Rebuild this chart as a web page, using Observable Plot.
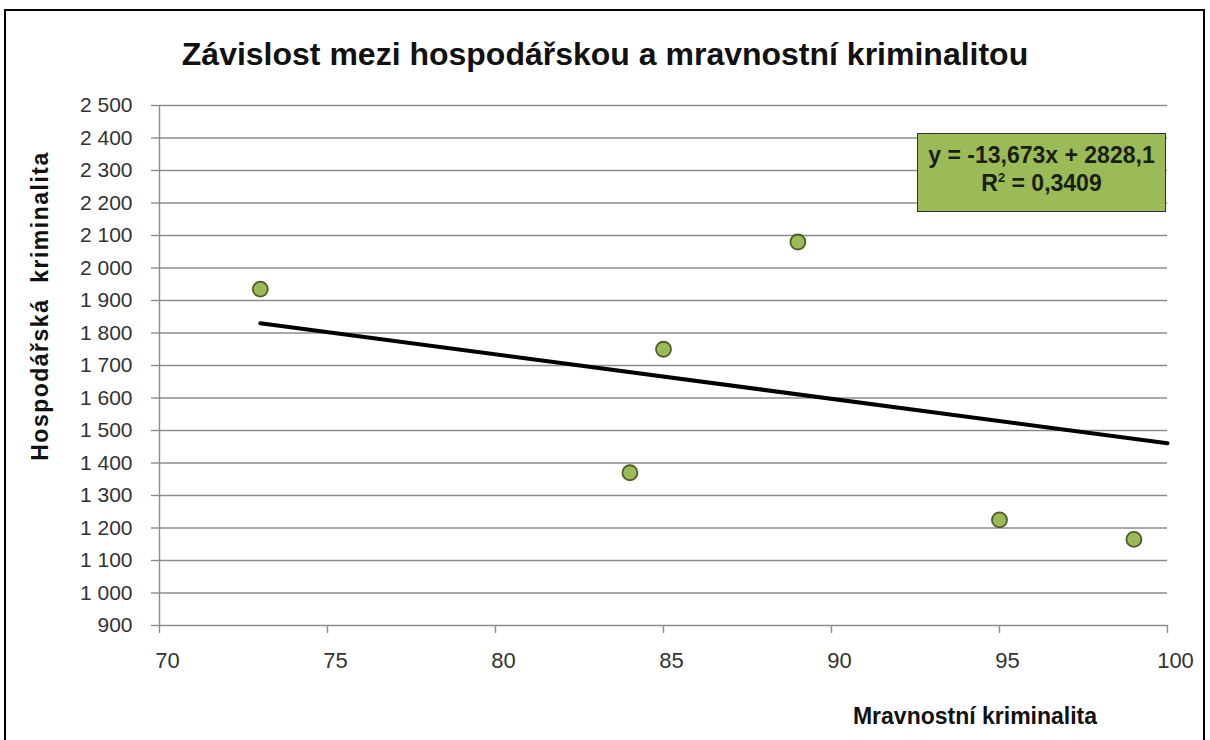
<!DOCTYPE html>
<html>
<head>
<meta charset="utf-8">
<script src="https://cdn.jsdelivr.net/npm/d3@7"></script>
<script src="https://cdn.jsdelivr.net/npm/@observablehq/plot@0.6"></script>
<style>
  body { margin: 0; background: #fff; }
  #wrap { position: relative; width: 1210px; height: 740px; overflow: hidden; font-family: "Liberation Sans", Arial, sans-serif; }
  #chart { position: absolute; left: 0; top: 0; }
  .frame { position: absolute; left: 4px; top: 9px; width: 1197px; height: 800px; border: 2px solid #000; }
  .title { position: absolute; left: 0; width: 1210px; top: 36px; text-align: center; font-weight: bold; font-size: 32px; color: #111; }
  .ytitle { position: absolute; left: 40px; top: 306px; transform: translate(-50%, -50%) rotate(-90deg); white-space: pre; font-weight: bold; font-size: 23px; letter-spacing: 1.5px; color: #111; }
  .xtitle { position: absolute; left: 975px; top: 716px; transform: translate(-50%, -50%); white-space: pre; font-weight: bold; font-size: 23px; color: #111; }
  .eq { position: absolute; left: 917px; top: 133px; width: 247px; height: 70px; background: #9bbb59; border: 1.5px solid #333; text-align: center; font-weight: bold; font-size: 23px; line-height: 28px; padding-top: 7px; box-sizing: content-box; color: #1a1f10; }
  .eq sup { font-size: 13px; vertical-align: 9px; line-height: 0; }
</style>
</head>
<body>
<div id="wrap">
  <div id="chart"></div>
  <div class="frame"></div>
  <div class="title" id="title"></div>
  <div class="ytitle" id="ytitle"></div>
  <div class="xtitle" id="xtitle"></div>
  <div class="eq" id="eq"></div>
</div>
<script>
// ---- data ----
const xValues = [73, 84, 85, 89, 95, 99];
const yValues = [1935, 1370, 1750, 2080, 1225, 1165];
const xTicks = [70, 75, 80, 85, 90, 95, 100];
const yTicks = [900, 1000, 1100, 1200, 1300, 1400, 1500, 1600, 1700, 1800, 1900, 2000, 2100, 2200, 2300, 2400, 2500];
const slope = -13.673;
const intercept = 2828.1;
const rSquared = 0.3409;
const trendX = [73, 100];
const titleText = "Závislost mezi hospodářskou a mravnostní kriminalitou";
const yTitleText = "Hospodářská  kriminalita";
const xTitleText = "Mravnostní kriminalita";

const points = xValues.map((x, i) => ({x, y: yValues[i]}));
const trend = trendX.map(x => ({x, y: intercept + slope * x}));

const fmtY = d => d3.format(",")(d).replace(",", " ");
const fmtNum = v => String(v).replace(".", ",");

const gridColor = "#8c8c8c";

const chart = Plot.plot({
  width: 1210,
  height: 740,
  marginLeft: 159,
  marginRight: 43,
  marginTop: 105,
  marginBottom: 115,
  style: { background: "transparent", fontFamily: "'Liberation Sans', Arial, sans-serif", fontSize: "21px", color: "#333" },
  x: { domain: [70, 100], axis: null },
  y: { domain: [900, 2500], axis: null },
  marks: [
    Plot.ruleY(yTicks, { stroke: gridColor, strokeWidth: 1.4 }),
    Plot.ruleX([70], { stroke: gridColor, strokeWidth: 1.4 }),
    Plot.axisY({ ticks: yTicks, tickFormat: fmtY, tickSize: 8, tickPadding: 19, stroke: gridColor, strokeWidth: 1.4, fill: "#333", fontSize: 21, label: null }),
    Plot.axisX({ ticks: xTicks, tickFormat: () => "", tickSize: 8, stroke: gridColor, strokeWidth: 1.4, label: null }),
    Plot.axisX({ ticks: xTicks, tickFormat: d => String(d), tickSize: 0, tickPadding: 27, fill: "#333", fontSize: 22, dx: 8, label: null }),
    Plot.line(trend, { x: "x", y: "y", stroke: "#000", strokeWidth: 4 }),
    Plot.dot(points, { x: "x", y: "y", r: 7.5, fill: "#9bbb59", stroke: "#4a5e26", strokeWidth: 1.8 })
  ]
});
document.getElementById("chart").appendChild(chart);

document.getElementById("title").textContent = titleText;
document.getElementById("ytitle").textContent = yTitleText;
document.getElementById("xtitle").textContent = xTitleText;
document.getElementById("eq").innerHTML =
  "y = " + fmtNum(slope) + "x + " + fmtNum(intercept) + "<br>R<sup>2</sup> = " + fmtNum(rSquared);
</script>
</body>
</html>
